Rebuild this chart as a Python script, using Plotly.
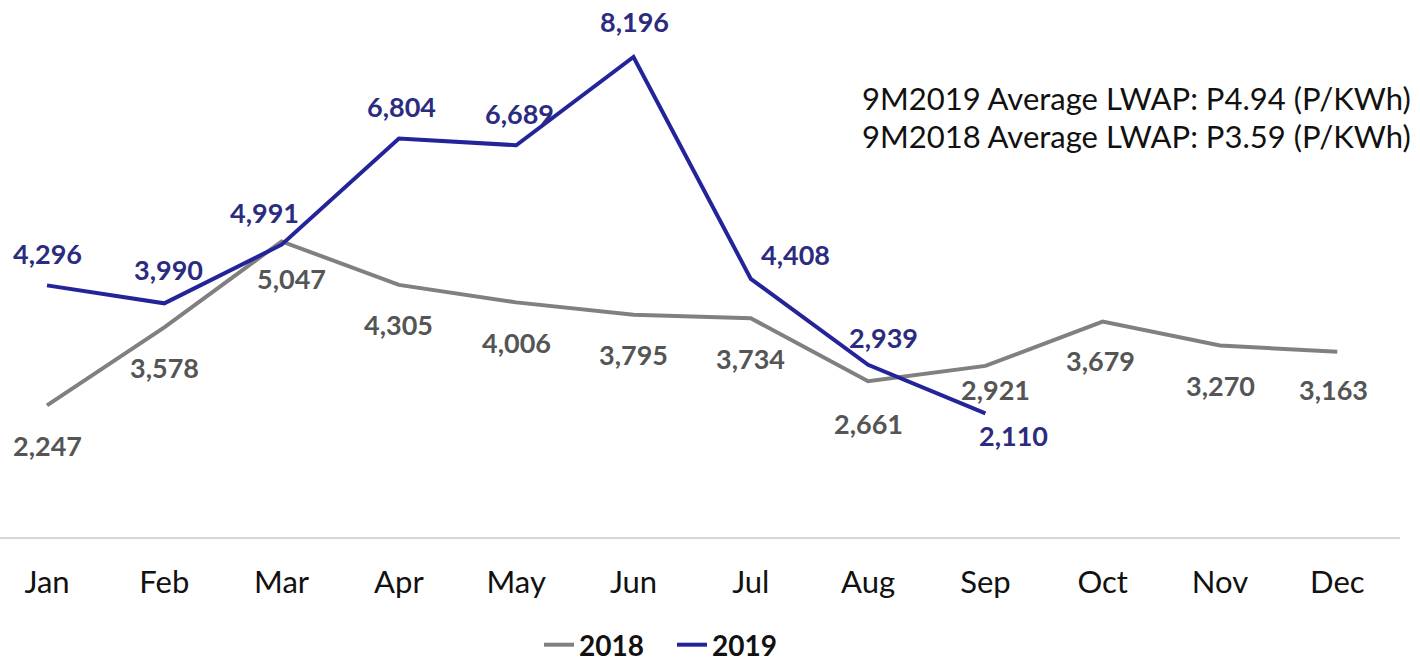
import plotly.graph_objects as go

# Monthly values
months = ["Jan", "Feb", "Mar", "Apr", "May", "Jun",
          "Jul", "Aug", "Sep", "Oct", "Nov", "Dec"]
values_2018 = [2247, 3578, 5047, 4305, 4006, 3795, 3734, 2661, 2921, 3679, 3270, 3163]
values_2019 = [4296, 3990, 4991, 6804, 6689, 8196, 4408, 2939, 2110]

note_lines = ["9M2019 Average LWAP: P4.94 (P/KWh)",
              "9M2018 Average LWAP: P3.59 (P/KWh)"]

# Label offsets in pixels (dx, dy) relative to each point; dy > 0 is upward
offsets_2018 = [(0, -40), (0, -40), (10, -37), (0, -40), (0, -40), (0, -40),
                (0, -40), (0, -42), (10, -24), (-2, -39), (0, -40), (-4, -38)]
offsets_2019 = [(0, 32), (4, 34), (-17, 32), (3, 32), (3, 32), (1, 35),
                (45, 24), (15, 27), (28, -22)]

COLOR_2018 = "#808080"
COLOR_2019 = "#24249a"
LABEL_2018 = "#555555"
LABEL_2019 = "#2b2b80"
FONT = "Lato"

fig = go.Figure()
fig.add_trace(go.Scatter(
    x=months, y=values_2018, mode="lines", name="2018",
    line=dict(color=COLOR_2018, width=4),
))
fig.add_trace(go.Scatter(
    x=months[:len(values_2019)], y=values_2019, mode="lines", name="2019",
    line=dict(color=COLOR_2019, width=4),
))

annotations = []
for series, offs, col in ((values_2018, offsets_2018, LABEL_2018),
                          (values_2019, offsets_2019, LABEL_2019)):
    for m, v, (dx, dy) in zip(months, series, offs):
        annotations.append(dict(
            x=m, y=v, xref="x", yref="y", text=f"{v:,}", showarrow=False,
            xshift=dx, yshift=dy, xanchor="center", yanchor="middle",
            font=dict(family=FONT, size=27, color=col, weight="bold"),
        ))

# Two-line note in the upper right
for i, line in enumerate(note_lines):
    annotations.append(dict(
        x=1413 / 1400, y=(537 - 98 - 38 * i) / 537, xref="paper", yref="paper",
        text=line, showarrow=False, xanchor="right", yanchor="middle",
        font=dict(family=FONT, size=31, color="#111111"),
    ))

fig.update_layout(
    width=1420, height=663,
    margin=dict(l=0, r=20, t=0, b=126, autoexpand=False),
    paper_bgcolor="white", plot_bgcolor="white",
    showlegend=True,
    legend=dict(orientation="h", x=672 / 1400, xanchor="center",
                y=(537 - 645) / 537, yanchor="middle",
                font=dict(family=FONT, size=28, color="#111111", weight="bold"),
                entrywidth=88, tracegroupgap=0),
    annotations=annotations,
)
fig.update_xaxes(
    type="category", categoryorder="array", categoryarray=months,
    range=[-47 / 117.3, -47 / 117.3 + 1400 / 117.3],
    showgrid=False, zeroline=False,
    showline=True, linecolor="#d6d6d6", linewidth=2,
    ticks="outside", ticklen=17, tickcolor="rgba(0,0,0,0)",
    tickfont=dict(family=FONT, size=31, color="#111111"),
)
fig.update_yaxes(
    range=[0, 537 / 0.05857], visible=False, showgrid=False, zeroline=False,
)

fig.write_html("out.html")
